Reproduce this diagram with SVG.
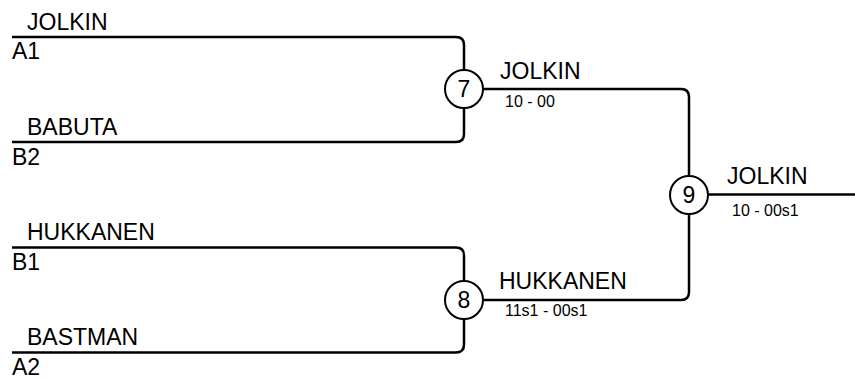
<svg xmlns="http://www.w3.org/2000/svg" width="855" height="379" viewBox="0 0 855 379">
<style>
.ln{fill:none;stroke:#000;stroke-width:2.5}
.c{fill:#fff;stroke:#000;stroke-width:2}
.t{font-family:"Liberation Sans",Arial,sans-serif;font-size:23px;fill:#000}
.s{font-family:"Liberation Sans",Arial,sans-serif;font-size:16px;fill:#000}
.n{font-family:"Liberation Sans",Arial,sans-serif;font-size:23px;fill:#000;text-anchor:middle}
</style>
<rect width="855" height="379" fill="#fff"/>
<g id="connectors">
<path class="ln" d="M12,37 H456 Q464,37 464,45 V70"/>
<path class="ln" d="M12,142 H456 Q464,142 464,134 V108"/>
<path class="ln" d="M12,247.5 H456 Q464,247.5 464,255.5 V281"/>
<path class="ln" d="M12,352.5 H456 Q464,352.5 464,344.5 V319"/>
<path class="ln" d="M483,89 H681 Q689,89 689,97 V176"/>
<path class="ln" d="M483,300 H681 Q689,300 689,292 V214"/>
<path class="ln" d="M708,194.5 H855"/>
</g>
<g id="entry-a1">
<text class="t" x="27" y="30">JOLKIN</text>
<text class="t" x="12" y="59">A1</text>
</g>
<g id="entry-b2">
<text class="t" x="27" y="135">BABUTA</text>
<text class="t" x="12" y="165">B2</text>
</g>
<g id="entry-b1">
<text class="t" x="27" y="240">HUKKANEN</text>
<text class="t" x="12" y="270">B1</text>
</g>
<g id="entry-a2">
<text class="t" x="27" y="345">BASTMAN</text>
<text class="t" x="12" y="375">A2</text>
</g>
<g id="match-7">
<circle class="c" cx="464" cy="89" r="19"/>
<text class="n" x="464" y="97">7</text>
<text class="t" x="500" y="79">JOLKIN</text>
<text class="s" x="505" y="107">10 - 00</text>
</g>
<g id="match-8">
<circle class="c" cx="464" cy="300" r="19"/>
<text class="n" x="464" y="308">8</text>
<text class="t" x="499" y="289">HUKKANEN</text>
<text class="s" x="505" y="316">11s1 - 00s1</text>
</g>
<g id="match-9">
<circle class="c" cx="689" cy="195" r="19"/>
<text class="n" x="689" y="203">9</text>
<text class="t" x="727" y="184">JOLKIN</text>
<text class="s" x="732" y="216">10 - 00s1</text>
</g>
</svg>
